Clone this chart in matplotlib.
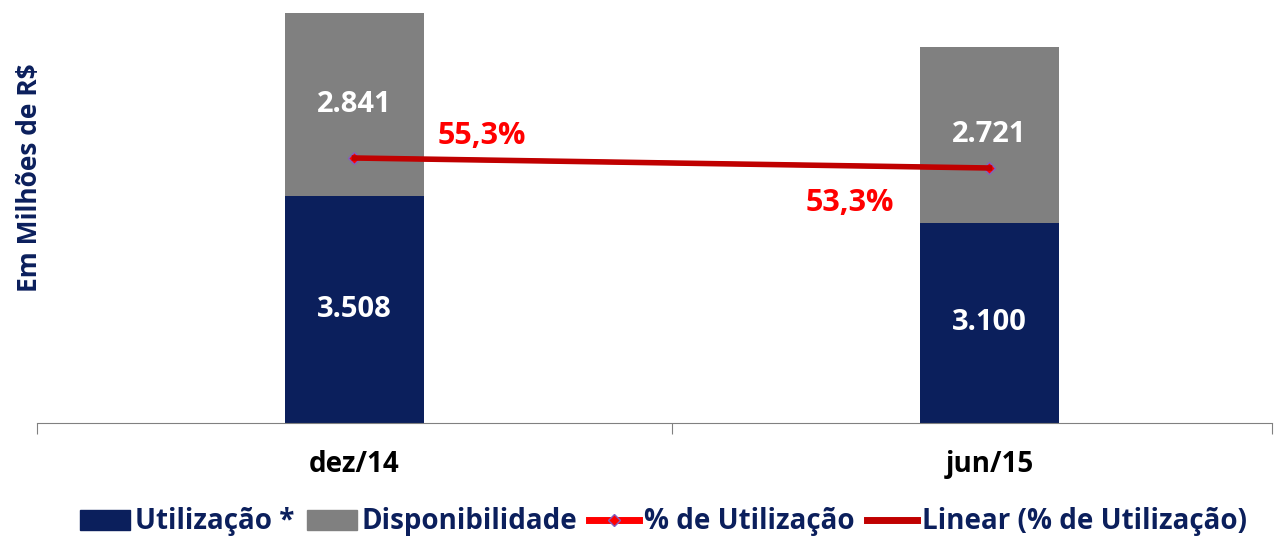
import matplotlib.pyplot as plt
from matplotlib.lines import Line2D
from matplotlib.patches import Patch

categories = ['dez/14', 'jun/15']
utilizacao = [3508, 3100]
disponibilidade = [2841, 2721]
pct_utilizacao = [55.3, 53.3]

navy = '#0b1f5c'
gray = '#808080'
red = '#ff0000'
dark_red = '#c00000'

plt.rcParams['font.family'] = ['Open Sans', 'DejaVu Sans']

fig = plt.figure(figsize=(12.83, 5.41), dpi=100)
W, H = 1283, 541
ax = fig.add_axes([37 / W, 1 - 423 / H, (1272 - 37) / W, (423 - 13) / H])

x = list(range(len(categories)))
ax.bar(x, utilizacao, width=0.22, color=navy)
ax.bar(x, disponibilidade, width=0.22, bottom=utilizacao, color=gray)
ax.set_xlim(-0.5, 1.445)
ax.set_ylim(0, sum([utilizacao[0], disponibilidade[0]]))

for i in x:
    ax.text(i, utilizacao[i] / 2, f'{utilizacao[i]:,}'.replace(',', '.'),
            ha='center', va='center', color='white', fontsize=21, fontweight='bold')
    ax.text(i, utilizacao[i] + disponibilidade[i] / 2, f'{disponibilidade[i]:,}'.replace(',', '.'),
            ha='center', va='center', color='white', fontsize=21, fontweight='bold')

for s in ['top', 'right', 'left']:
    ax.spines[s].set_visible(False)
ax.spines['bottom'].set_color(gray)
ax.set_yticks([])
ax.set_xticks([-0.5, 0.5, 1.445])
ax.set_xticklabels([])
ax.tick_params(axis='x', length=8, color=gray, direction='out')
for i, c in enumerate(categories):
    ax.text(i, -0.065, c, transform=ax.get_xaxis_transform(), ha='center', va='top',
            fontsize=20, fontweight='bold', color='black')

fig.text(30 / W, 1 - 178 / H, 'Em Milhões de R$', rotation=90, ha='center', va='center',
         fontsize=19, fontweight='bold', color=navy)

ax2 = ax.twinx()
ax2.set_ylim(2.3, 84.3)
ax2.axis('off')
ax2.plot(x, pct_utilizacao, color=red, lw=3, marker='D', ms=6,
         markerfacecolor=red, markeredgecolor='#8060c0', markeredgewidth=1)
ax2.plot(x, pct_utilizacao, color=dark_red, lw=4)
ax2.text(0.2, pct_utilizacao[0] + 4.5, '55,3%', ha='center', va='center',
         color=red, fontsize=22, fontweight='bold')
ax2.text(0.78, pct_utilizacao[1] - 7, '53,3%', ha='center', va='center',
         color=red, fontsize=22, fontweight='bold')

handles = [
    Patch(color=navy),
    Patch(color=gray),
    Line2D([], [], color=red, lw=5, marker='D', ms=6, markerfacecolor=red,
           markeredgecolor='#8060c0'),
    Line2D([], [], color=dark_red, lw=5),
]
labels = ['Utilização *', 'Disponibilidade', '% de Utilização', 'Linear (% de Utilização)']
leg = fig.legend(handles, labels, loc='center', bbox_to_anchor=((72 + 1255) / 2 / W, 1 - 522 / H),
                 ncol=4, frameon=False, prop={'weight': 'bold', 'size': 20}, handlelength=1.8,
                 handleheight=0.72, handletextpad=0.18, columnspacing=0.43, borderpad=0)
for t in leg.get_texts():
    t.set_color(navy)

fig.savefig('out.png', dpi=100)
